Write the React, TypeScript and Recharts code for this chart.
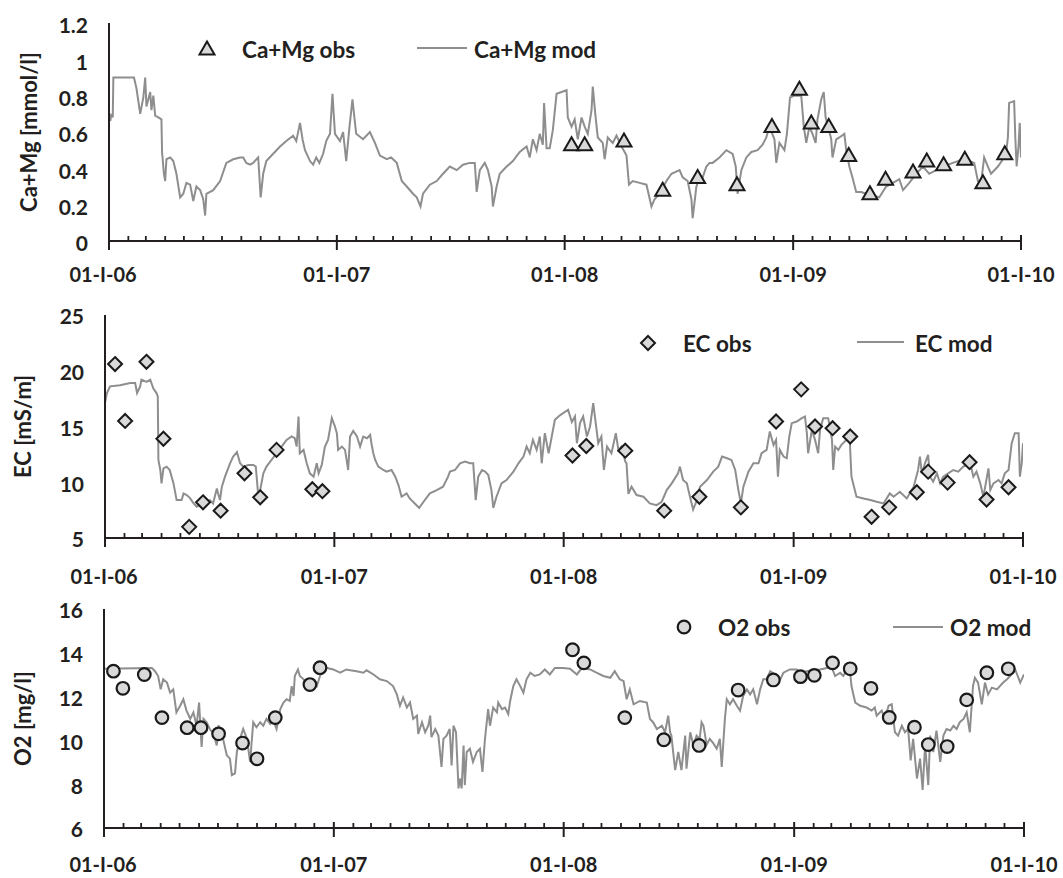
import React from 'react';
import { ComposedChart, Line, Scatter, XAxis, YAxis, Legend } from 'recharts';

// ---------- categories / ticks ----------
const yearTicks = [0, 365, 730, 1096, 1461];
const yearLabels = ['01-I-06', '01-I-07', '01-I-08', '01-I-09', '01-I-10'];
const monthTicks = [
  0, 31, 59, 90, 120, 151, 181, 212, 243, 273, 304, 334,
  365, 396, 424, 455, 485, 516, 546, 577, 608, 638, 669, 699,
  730, 761, 790, 821, 851, 882, 912, 943, 974, 1004, 1035, 1065,
  1096, 1127, 1155, 1186, 1216, 1247, 1277, 1308, 1339, 1369, 1400, 1430, 1461,
];
const caMgTicks = [0, 0.2, 0.4, 0.6, 0.8, 1, 1.2];
const ecTicks = [5, 10, 15, 20, 25];
const o2Ticks = [6, 8, 10, 12, 14, 16];

// ---------- Ca+Mg (days since 01-I-06) ----------
const caMgModDays = [0, 2, 4, 6, 7, 40, 44, 50, 55, 58, 60, 66, 68, 71, 74, 79, 84, 85, 88, 90, 92, 98, 103, 108, 114, 119, 124, 130, 135, 140, 146, 151, 154, 156, 167, 178, 188, 199, 210, 215, 220, 226, 231, 239, 243, 247, 252, 263, 274, 284, 295, 300, 306, 310, 314, 322, 327, 332, 337, 343, 348, 354, 358, 362, 370, 375, 380, 385, 390, 396, 407, 418, 426, 434, 445, 452, 461, 469, 477, 487, 493, 499, 503, 514, 525, 535, 546, 557, 567, 578, 586, 589, 594, 602, 607, 613, 615, 621, 626, 637, 647, 658, 669, 674, 679, 685, 690, 695, 697, 701, 706, 711, 717, 733, 735, 741, 746, 751, 757, 762, 767, 773, 775, 779, 783, 791, 794, 799, 807, 813, 821, 826, 829, 833, 839, 850, 861, 869, 874, 882, 893, 901, 914, 919, 927, 933, 935, 941, 946, 951, 957, 962, 967, 978, 989, 999, 1004, 1007, 1013, 1021, 1029, 1039, 1047, 1053, 1058, 1066, 1069, 1074, 1082, 1086, 1091, 1098, 1109, 1113, 1117, 1122, 1127, 1132, 1135, 1141, 1145, 1148, 1152, 1157, 1159, 1165, 1170, 1178, 1181, 1186, 1191, 1197, 1205, 1213, 1224, 1234, 1245, 1256, 1266, 1272, 1282, 1293, 1304, 1314, 1325, 1336, 1352, 1368, 1378, 1386, 1392, 1397, 1402, 1408, 1413, 1424, 1432, 1437, 1440, 1442, 1450, 1452, 1454, 1457, 1459, 1461];
const caMgModVals = [0.71, 0.66, 0.7, 0.68, 0.9, 0.9, 0.84, 0.7, 0.79, 0.9, 0.74, 0.82, 0.72, 0.8, 0.69, 0.68, 0.67, 0.49, 0.37, 0.33, 0.45, 0.46, 0.44, 0.37, 0.24, 0.26, 0.32, 0.31, 0.22, 0.3, 0.28, 0.23, 0.14, 0.26, 0.28, 0.33, 0.43, 0.45, 0.46, 0.46, 0.43, 0.42, 0.43, 0.46, 0.24, 0.37, 0.44, 0.48, 0.52, 0.55, 0.58, 0.55, 0.65, 0.56, 0.5, 0.44, 0.42, 0.46, 0.43, 0.48, 0.55, 0.59, 0.81, 0.59, 0.55, 0.6, 0.44, 0.62, 0.78, 0.59, 0.56, 0.6, 0.54, 0.47, 0.45, 0.46, 0.43, 0.33, 0.3, 0.26, 0.24, 0.19, 0.26, 0.31, 0.33, 0.37, 0.41, 0.39, 0.42, 0.43, 0.43, 0.27, 0.39, 0.43, 0.39, 0.3, 0.19, 0.3, 0.37, 0.41, 0.44, 0.49, 0.52, 0.46, 0.56, 0.5, 0.59, 0.53, 0.76, 0.51, 0.51, 0.61, 0.81, 0.83, 0.68, 0.63, 0.67, 0.56, 0.68, 0.63, 0.59, 0.72, 0.85, 0.7, 0.57, 0.54, 0.45, 0.57, 0.54, 0.58, 0.52, 0.49, 0.47, 0.31, 0.33, 0.32, 0.31, 0.19, 0.23, 0.26, 0.33, 0.37, 0.39, 0.35, 0.33, 0.23, 0.125, 0.3, 0.35, 0.35, 0.41, 0.43, 0.43, 0.46, 0.5, 0.48, 0.41, 0.26, 0.39, 0.46, 0.49, 0.5, 0.53, 0.57, 0.63, 0.56, 0.43, 0.54, 0.5, 0.59, 0.79, 0.8, 0.8, 0.63, 0.54, 0.63, 0.59, 0.54, 0.67, 0.78, 0.82, 0.68, 0.63, 0.56, 0.46, 0.56, 0.57, 0.59, 0.5, 0.41, 0.35, 0.27, 0.27, 0.26, 0.25, 0.24, 0.3, 0.32, 0.34, 0.28, 0.32, 0.37, 0.41, 0.37, 0.39, 0.41, 0.43, 0.45, 0.44, 0.43, 0.33, 0.32, 0.46, 0.41, 0.37, 0.41, 0.45, 0.48, 0.57, 0.76, 0.77, 0.56, 0.41, 0.52, 0.65, 0.46];
const caMgObsDays = [741, 762, 825, 887, 943, 1006, 1062, 1106, 1125, 1153, 1185, 1219, 1244, 1288, 1310, 1337, 1371, 1400, 1435];
const caMgObsVals = [0.53, 0.53, 0.55, 0.28, 0.35, 0.31, 0.63, 0.835, 0.65, 0.63, 0.47, 0.26, 0.34, 0.38, 0.44, 0.42, 0.45, 0.32, 0.48];

// ---------- EC ----------
const ecModDays = [0, 3, 8, 24, 40, 48, 51, 56, 58, 66, 72, 77, 82, 84, 85, 88, 90, 93, 98, 103, 109, 114, 122, 125, 130, 135, 141, 146, 151, 156, 162, 167, 172, 178, 180, 183, 186, 191, 199, 204, 210, 215, 220, 228, 236, 240, 244, 247, 252, 257, 265, 273, 281, 289, 297, 302, 305, 308, 310, 316, 321, 326, 332, 337, 340, 345, 350, 355, 361, 366, 369, 371, 377, 382, 387, 390, 395, 401, 406, 411, 417, 422, 424, 427, 430, 435, 443, 448, 456, 462, 467, 472, 480, 485, 493, 500, 507, 517, 528, 538, 546, 549, 557, 565, 573, 581, 586, 590, 594, 600, 605, 610, 615, 618, 623, 631, 639, 650, 658, 666, 671, 676, 681, 687, 692, 695, 700, 706, 711, 716, 724, 737, 743, 748, 751, 756, 761, 767, 772, 777, 781, 785, 790, 794, 799, 806, 813, 817, 822, 828, 830, 833, 838, 846, 857, 867, 878, 886, 894, 902, 912, 915, 920, 926, 931, 936, 942, 947, 958, 968, 976, 982, 990, 997, 1003, 1008, 1012, 1016, 1024, 1032, 1040, 1045, 1053, 1058, 1064, 1068, 1071, 1074, 1080, 1085, 1089, 1093, 1101, 1109, 1114, 1117, 1119, 1125, 1130, 1135, 1138, 1143, 1151, 1157, 1159, 1162, 1167, 1172, 1180, 1185, 1188, 1196, 1207, 1218, 1228, 1239, 1249, 1255, 1265, 1276, 1287, 1294, 1297, 1300, 1305, 1310, 1313, 1318, 1324, 1329, 1334, 1342, 1350, 1358, 1366, 1371, 1377, 1382, 1387, 1393, 1398, 1406, 1409, 1414, 1422, 1427, 1432, 1438, 1443, 1448, 1454, 1456, 1459, 1461];
const ecModVals = [17.1, 18.0, 18.6, 18.7, 18.9, 18.9, 18.0, 18.6, 19.2, 19.0, 19.2, 18.4, 18.0, 17.7, 12.0, 11.1, 9.9, 11.25, 11.4, 11.1, 9.9, 8.4, 8.4, 9.0, 8.85, 8.6, 8.1, 7.8, 7.95, 8.1, 8.1, 8.4, 8.1, 9.45, 9.0, 8.4, 9.6, 10.5, 11.7, 12.3, 12.7, 11.7, 11.4, 11.55, 11.55, 11.4, 8.7, 9.3, 10.8, 11.4, 12.0, 12.6, 13.2, 13.8, 14.1, 13.95, 13.2, 15.9, 12.6, 12.9, 11.7, 10.8, 10.5, 11.7, 10.8, 11.55, 13.2, 13.8, 15.75, 15.0, 14.4, 12.9, 13.2, 12.9, 11.1, 14.1, 14.6, 14.1, 13.2, 14.1, 13.95, 14.24, 13.5, 12.6, 12.0, 11.4, 11.1, 10.95, 11.1, 10.5, 9.75, 8.7, 9.0, 8.55, 8.1, 7.7, 8.25, 9.0, 9.3, 9.6, 10.5, 10.95, 11.1, 11.7, 11.85, 11.7, 11.7, 8.4, 10.5, 11.1, 10.95, 10.65, 9.3, 7.7, 8.7, 9.9, 10.2, 10.95, 11.7, 12.3, 13.2, 12.6, 13.8, 12.9, 14.1, 11.7, 14.4, 12.6, 14.1, 15.6, 16.0, 16.5, 15.4, 15.9, 13.5, 15.3, 15.9, 14.1, 15.0, 17.1, 15.3, 13.5, 14.1, 11.1, 13.2, 12.6, 14.4, 12.9, 13.2, 11.85, 11.7, 8.95, 9.6, 8.85, 8.7, 8.1, 7.95, 8.25, 9.3, 9.9, 10.8, 11.4, 10.2, 9.9, 8.7, 7.55, 8.4, 9.6, 10.2, 10.95, 11.4, 12.3, 12.15, 12.0, 11.1, 9.3, 8.1, 9.6, 10.95, 11.7, 11.7, 12.6, 12.9, 14.55, 13.35, 13.8, 10.5, 12.9, 12.3, 12.15, 14.1, 15.3, 15.45, 15.75, 15.9, 14.4, 12.6, 14.7, 13.8, 12.6, 14.7, 15.75, 15.75, 13.8, 11.1, 13.2, 12.9, 13.35, 13.8, 14.1, 10.5, 8.7, 8.55, 8.4, 8.25, 8.1, 9.0, 8.7, 9.15, 8.55, 9.6, 11.1, 12.3, 10.8, 11.7, 12.45, 10.5, 10.05, 10.8, 9.9, 10.5, 10.8, 11.1, 10.95, 11.4, 11.55, 11.7, 10.5, 10.95, 9.9, 8.7, 11.25, 9.3, 9.9, 10.2, 9.9, 10.8, 11.1, 13.5, 14.4, 14.4, 10.5, 11.7, 13.5];
const ecObsDays = [16, 32, 66, 93, 134, 156, 184, 222, 247, 273, 330, 346, 744, 766, 828, 890, 946, 1012, 1068, 1108, 1130, 1158, 1186, 1220, 1248, 1292, 1310, 1341, 1376, 1403, 1438];
const ecObsVals = [20.6, 15.5, 20.8, 13.9, 6.0, 8.2, 7.45, 10.8, 8.65, 12.9, 9.37, 9.2, 12.4, 13.25, 12.83, 7.45, 8.7, 7.75, 15.45, 18.33, 15.0, 14.85, 14.1, 6.9, 7.75, 9.1, 10.95, 9.97, 11.8, 8.45, 9.55];

// ---------- O2 ----------
const o2ModDays = [0, 76, 81, 86, 90, 94, 100, 105, 110, 115, 121, 126, 131, 137, 142, 147, 151, 155, 158, 163, 168, 174, 179, 182, 184, 189, 195, 200, 203, 208, 211, 216, 221, 227, 232, 237, 242, 248, 253, 258, 264, 269, 274, 280, 285, 290, 295, 298, 301, 303, 308, 311, 317, 322, 327, 332, 338, 343, 348, 354, 364, 375, 385, 391, 401, 412, 417, 428, 438, 449, 459, 465, 470, 475, 481, 486, 491, 497, 499, 505, 510, 515, 518, 520, 526, 531, 536, 539, 544, 549, 552, 555, 559, 563, 565, 568, 571, 573, 576, 581, 586, 592, 597, 601, 605, 610, 613, 618, 624, 626, 632, 637, 642, 645, 650, 655, 661, 666, 671, 677, 684, 692, 700, 708, 716, 729, 740, 751, 759, 772, 782, 793, 804, 811, 819, 825, 830, 835, 841, 851, 862, 867, 872, 878, 886, 891, 896, 899, 901, 907, 912, 917, 923, 925, 931, 936, 941, 946, 949, 952, 957, 962, 968, 973, 978, 981, 986, 989, 994, 999, 1005, 1010, 1015, 1021, 1026, 1031, 1037, 1042, 1047, 1052, 1058, 1066, 1074, 1079, 1089, 1100, 1105, 1116, 1126, 1137, 1148, 1156, 1161, 1169, 1174, 1179, 1185, 1187, 1193, 1201, 1211, 1219, 1224, 1227, 1235, 1240, 1246, 1251, 1256, 1261, 1267, 1272, 1277, 1281, 1285, 1291, 1296, 1300, 1304, 1309, 1312, 1317, 1322, 1328, 1333, 1338, 1344, 1349, 1354, 1359, 1365, 1370, 1375, 1380, 1383, 1388, 1394, 1399, 1404, 1410, 1418, 1428, 1434, 1439, 1447, 1455, 1461];
const o2ModVals = [13.27, 13.31, 13.16, 12.94, 12.33, 12.79, 12.64, 12.18, 12.33, 11.28, 11.58, 11.88, 11.36, 10.98, 11.28, 10.67, 11.73, 9.7, 10.98, 10.83, 10.52, 10.3, 9.77, 10.7, 10.22, 10.07, 9.32, 9.17, 8.41, 8.49, 9.47, 10.07, 10.52, 10.07, 9.02, 10.83, 10.6, 10.83, 10.67, 10.98, 10.75, 10.9, 10.52, 11.43, 11.73, 11.88, 11.8, 12.48, 12.03, 12.94, 13.24, 12.94, 12.79, 12.48, 12.33, 12.64, 12.48, 12.94, 13.24, 13.31, 13.24, 13.09, 13.24, 13.2, 13.16, 13.09, 13.2, 13.01, 12.79, 12.71, 12.48, 12.1, 11.58, 11.96, 11.5, 11.73, 10.98, 11.13, 10.3, 10.83, 10.37, 10.67, 11.13, 10.15, 10.52, 10.22, 8.79, 10.07, 10.22, 10.52, 8.86, 10.67, 10.37, 7.81, 8.26, 7.81, 9.77, 7.96, 9.47, 9.62, 9.02, 9.47, 9.62, 8.56, 10.07, 11.43, 10.67, 11.5, 11.28, 11.73, 11.43, 11.5, 11.2, 11.8, 12.48, 12.79, 12.48, 12.18, 12.79, 13.09, 12.94, 13.01, 13.24, 13.01, 13.31, 13.31, 13.27, 13.01, 13.31, 13.24, 13.09, 12.94, 12.86, 13.16, 12.79, 12.71, 11.88, 12.33, 11.65, 11.8, 11.73, 10.98, 10.83, 10.52, 10.67, 10.37, 11.13, 10.37, 10.22, 8.64, 9.47, 8.64, 10.22, 8.71, 10.37, 9.77, 10.22, 10.07, 10.83, 10.67, 9.8, 10.07, 9.85, 9.62, 10.07, 8.79, 10.98, 11.88, 11.65, 11.88, 11.58, 11.36, 12.03, 12.33, 12.1, 12.33, 11.65, 12.33, 12.79, 12.79, 13.16, 13.01, 12.79, 13.09, 13.24, 13.24, 13.09, 13.16, 13.2, 13.24, 13.31, 13.31, 12.94, 13.09, 12.94, 13.16, 13.09, 12.48, 11.73, 11.58, 11.5, 11.36, 11.5, 11.13, 11.36, 10.98, 11.58, 11.65, 10.37, 10.22, 10.67, 10.37, 10.52, 9.09, 10.07, 8.26, 9.17, 7.74, 9.77, 7.96, 10.22, 9.47, 10.45, 9.02, 10.22, 10.52, 10.45, 10.67, 10.52, 10.83, 10.98, 11.28, 10.37, 12.48, 12.86, 12.64, 11.65, 12.64, 12.1, 12.41, 12.33, 12.64, 12.79, 12.94, 13.24, 12.64, 13.01];
const o2ObsDays = [15, 30, 64, 92, 132, 154, 182, 220, 243, 272, 327, 343, 744, 762, 827, 889, 945, 1007, 1063, 1106, 1128, 1157, 1185, 1218, 1247, 1287, 1309, 1339, 1370, 1402, 1436];
const o2ObsVals = [13.16, 12.38, 13.01, 11.04, 10.58, 10.58, 10.3, 9.88, 9.16, 11.04, 12.55, 13.32, 14.14, 13.54, 11.04, 10.03, 9.77, 12.3, 12.76, 12.91, 12.97, 13.54, 13.27, 12.38, 11.05, 10.6, 9.81, 9.72, 11.85, 13.09, 13.27];

// ---------- styles ----------
const FONT = 'Lato, "Open Sans", "Liberation Sans", sans-serif';
const TXT = '#231f20';
const AX = '#231f20';
const LINE = '#8e8e8e';
const MFILL = '#d9d9d9';
const MSTROKE = '#1a1a1a';

const pts = (d: number[], v: number[]) => d.map((day, i) => ({ day, v: v[i] }));

const Tri = (p: any) => {
  const { cx, cy } = p;
  if (cx == null || cy == null) return null;
  return <path d={`M${cx},${cy - 7.5}L${cx + 7.5},${cy + 5.5}L${cx - 7.5},${cy + 5.5}Z`} fill={MFILL} stroke={MSTROKE} strokeWidth={2} />;
};
const Dia = (p: any) => {
  const { cx, cy } = p;
  if (cx == null || cy == null) return null;
  return <path d={`M${cx},${cy - 7}L${cx + 7},${cy}L${cx},${cy + 7}L${cx - 7},${cy}Z`} fill={MFILL} stroke={MSTROKE} strokeWidth={2} />;
};
const Circ = (p: any) => {
  const { cx, cy } = p;
  if (cx == null || cy == null) return null;
  return <circle cx={cx} cy={cy} r={6.3} fill={MFILL} stroke={MSTROKE} strokeWidth={2.2} />;
};

// x tick: draws monthly tick marks (inside), year marks crossing the axis, and year labels
const XTick = (labelOffset: number, firstDx: number) => (p: any) => {
  const { x, y, payload } = p;
  const i = yearTicks.indexOf(payload.value);
  const isYear = i >= 0;
  return (
    <g>
      {isYear
        ? <line x1={x} x2={x} y1={y - 6} y2={y + 9} stroke={AX} strokeWidth={2} />
        : <line x1={x} x2={x} y1={y - 5} y2={y} stroke={AX} strokeWidth={1.8} />}
      {isYear && (
        <text x={x + (i === 0 ? firstDx : 0)} y={y + labelOffset} dy="0.71em" textAnchor="middle" fill={TXT}
          style={{ fontFamily: FONT, fontWeight: 700, fontSize: 20 }}>
          {yearLabels[i]}
        </text>
      )}
    </g>
  );
};

const YTick = (shift: number) => (p: any) => {
  const { x, y, payload } = p;
  return (
    <text x={x} y={y + shift} dy="0.355em" textAnchor="end" fill={TXT}
      style={{ fontFamily: FONT, fontWeight: 700, fontSize: 21 }}>
      {String(payload.value)}
    </text>
  );
};

const YTitle = (text: string, xPos: number) => (p: any) => {
  const vb = p.viewBox || {};
  const cy = (vb.y ?? 0) + (vb.height ?? 0) / 2;
  return (
    <text x={xPos} y={cy} transform={`rotate(-90 ${xPos} ${cy})`} textAnchor="middle" dominantBaseline="central"
      fill={TXT} style={{ fontFamily: FONT, fontWeight: 700, fontSize: 22 }}>
      {text}
    </text>
  );
};

type LegendCfg = { obs: string; mod: string; shape: any; mx: number; my: number; tx: number; lx1: number; lx2: number; ly: number; t2x: number; h: number };

const makeLegend = (c: LegendCfg) => () => (
  <svg width={1063} height={c.h} style={{ position: 'absolute', left: 0, top: 0, overflow: 'visible' }}>
    {c.shape({ cx: c.mx, cy: c.my })}
    <text x={c.tx} y={c.my} dominantBaseline="central" fill={TXT} style={{ fontFamily: FONT, fontWeight: 700, fontSize: 22.5 }}>{c.obs}</text>
    <line x1={c.lx1} x2={c.lx2} y1={c.ly} y2={c.ly} stroke={LINE} strokeWidth={2} />
    <text x={c.t2x} y={c.my} dominantBaseline="central" fill={TXT} style={{ fontFamily: FONT, fontWeight: 700, fontSize: 22.5 }}>{c.mod}</text>
  </svg>
);

type PanelProps = {
  top: number; height: number; margin: any; yWidth: number; yDomain: number[]; yTicks: number[];
  title: string; titleX: number; mod: any[]; obs: any[]; shape: any; legend: LegendCfg;
  labelOffset: number; firstDx: number; yShift: number; modName: string; obsName: string;
};

function Panel(p: PanelProps) {
  return (
    <div style={{ position: 'absolute', left: 0, top: p.top, width: 1063, height: p.height }}>
      <ComposedChart width={1063} height={p.height} margin={p.margin} style={{ fontFamily: FONT }}>
        <XAxis dataKey="day" type="number" domain={[0, 1461]} ticks={monthTicks} allowDataOverflow
          height={50} tickSize={0} tickMargin={0} interval={0}
          axisLine={{ stroke: AX, strokeWidth: 2 }} tickLine={false} tick={XTick(p.labelOffset, p.firstDx)} />
        <YAxis type="number" domain={p.yDomain} ticks={p.yTicks} allowDataOverflow width={p.yWidth} interval={0}
          tickLine={false} tickSize={0} tickMargin={21} axisLine={{ stroke: AX, strokeWidth: 2 }}
          tick={YTick(p.yShift)} label={YTitle(p.title, p.titleX)} />
        <Legend layout="vertical" align="center" verticalAlign="middle" content={makeLegend(p.legend)}
          wrapperStyle={{ position: 'absolute', left: 0, top: 0, width: 1063, height: p.height, margin: 0, padding: 0 }} />
        <Line data={p.mod} dataKey="v" name={p.modName} type="linear" stroke={LINE} strokeWidth={2} dot={false}
          activeDot={false} isAnimationActive={false} legendType="line" />
        <Scatter data={p.obs} dataKey="v" name={p.obsName} shape={p.shape} isAnimationActive={false} />
      </ComposedChart>
    </div>
  );
}

export default function App() {
  return (
    <div style={{ position: 'absolute', left: 0, top: 0, width: 1063, height: 878, background: '#fff', fontFamily: FONT }}>
      <Panel top={0} height={300} margin={{ top: 23, right: 42, bottom: 9, left: 0 }} yWidth={109}
        yDomain={[0, 1.2]} yTicks={caMgTicks} title="Ca+Mg [mmol/l]" titleX={28}
        mod={pts(caMgModDays, caMgModVals)} obs={pts(caMgObsDays, caMgObsVals)} shape={Tri}
        modName="Ca+Mg mod" obsName="Ca+Mg obs" labelOffset={27} firstDx={-6} yShift={3}
        legend={{ obs: 'Ca+Mg obs', mod: 'Ca+Mg mod', shape: Tri, mx: 207, my: 49, tx: 242, lx1: 417, lx2: 467, ly: 48, t2x: 474, h: 300 }} />
      <Panel top={290} height={300} margin={{ top: 25, right: 40, bottom: 2, left: 0 }} yWidth={105}
        yDomain={[5, 25]} yTicks={ecTicks} title="EC [mS/m]" titleX={22}
        mod={pts(ecModDays, ecModVals)} obs={pts(ecObsDays, ecObsVals)} shape={Dia}
        modName="EC mod" obsName="EC obs" labelOffset={32} firstDx={-1} yShift={2}
        legend={{ obs: 'EC obs', mod: 'EC mod', shape: Dia, mx: 648, my: 53, tx: 683, lx1: 857, lx2: 904, ly: 52, t2x: 915, h: 300 }} />
      <Panel top={580} height={298} margin={{ top: 29, right: 39, bottom: 0, left: 0 }} yWidth={104}
        yDomain={[6, 16]} yTicks={o2Ticks} title="O2 [mg/l]" titleX={22}
        mod={pts(o2ModDays, o2ModVals)} obs={pts(o2ObsDays, o2ObsVals)} shape={Circ}
        modName="O2 mod" obsName="O2 obs" labelOffset={30} firstDx={-1} yShift={2}
        legend={{ obs: 'O2 obs', mod: 'O2 mod', shape: Circ, mx: 684, my: 47, tx: 718, lx1: 893, lx2: 943, ly: 47, t2x: 950, h: 298 }} />
    </div>
  );
}
